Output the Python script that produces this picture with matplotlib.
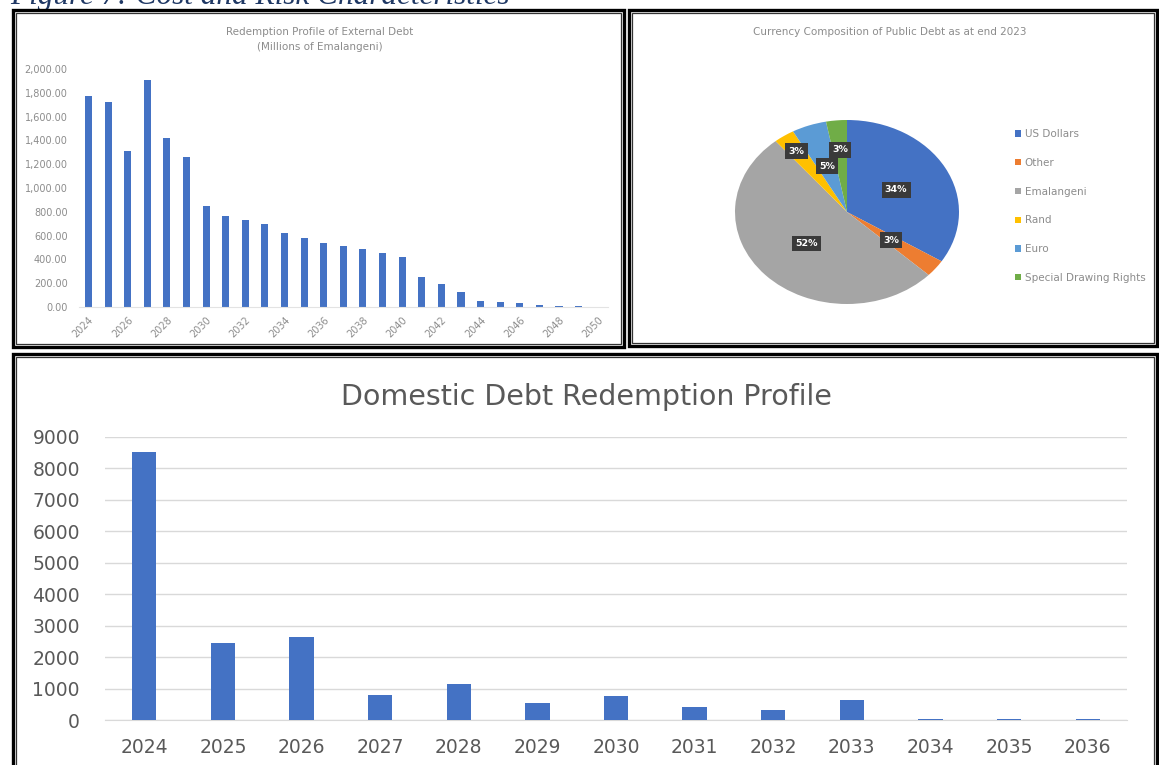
import matplotlib
matplotlib.use("Agg")
import matplotlib.pyplot as plt
from matplotlib.patches import Rectangle
from matplotlib.ticker import FuncFormatter, MultipleLocator
import numpy as np

W, H, DPI = 1159, 765, 100

# ---------------- data ----------------
ext_years = ["2024", "2025", "2026", "2027", "2028", "2029", "2030", "2031", "2032",
             "2033", "2034", "2035", "2036", "2037", "2038", "2039", "2040", "2041",
             "2042", "2043", "2044", "2045", "2046", "2047", "2048", "2049", "2050"]
ext_redemptions = [1773, 1723, 1311, 1908, 1420, 1260, 849, 765, 731, 697, 622, 580,
                   538, 513, 487, 454, 420, 252, 193, 126, 50, 42, 34, 17, 10, 6, 3]

currencies = ["US Dollars", "Other", "Emalangeni", "Rand", "Euro",
              "Special Drawing Rights"]
currency_shares = [34, 3, 52, 3, 5, 3]

dom_years = ["2024", "2025", "2026", "2027", "2028", "2029", "2030", "2031", "2032",
             "2033", "2034", "2035", "2036"]
dom_redemptions = [8510, 2450, 2640, 790, 1140, 530, 750, 420, 320, 635, 20, 20, 20]

# ---------------- styling ----------------
BAR_BLUE = "#4472C4"
PIE_COLORS = ["#4472C4", "#ED7D31", "#A5A5A5", "#FFC000", "#5B9BD5", "#70AD47"]
SMALL_TXT = "#8C8C8C"
TXT = "#595959"

fig = plt.figure(figsize=(W / DPI, H / DPI), dpi=DPI)
fig.patch.set_facecolor("white")


def px_axes(l, t, r, b):
    """Add an axes given pixel edges measured from the top-left corner."""
    return fig.add_axes([l / W, 1 - b / H, (r - l) / W, (b - t) / H])


def px_box(l, t, r, b, lw_outer=2.4, lw_inner=0.9, gap=3):
    """Double-ruled frame around a panel, in pixel coordinates."""
    for off, lw, col in [(0, lw_outer, "black"), (gap, lw_inner, "#333333")]:
        fig.add_artist(Rectangle(((l + off) / W, 1 - (b - off) / H),
                                 (r - l - 2 * off) / W, (b - t - 2 * off) / H,
                                 transform=fig.transFigure, fill=False,
                                 edgecolor=col, linewidth=lw, zorder=10))


# caption (runs off the top of the page)
fig.text(10 / W, 1 - 4 / H, "Figure 7: Cost and Risk Characteristics",
         fontsize=22.5, family="Liberation Serif", style="italic",
         color="#1F3864", va="baseline", ha="left")

# panel frames
px_box(13, 10, 624, 347)
px_box(629, 10, 1157, 346)
px_box(13, 354, 1157, 790)

# ---------------- external debt bars ----------------
ax1 = px_axes(78.7, 69, 608, 307)
x1 = np.arange(len(ext_years))
ax1.bar(x1, ext_redemptions, width=0.36, color=BAR_BLUE)
ax1.set_xlim(-0.5, len(ext_years) - 0.5)
ax1.set_ylim(0, 2000)
ax1.yaxis.set_major_locator(MultipleLocator(200))
ax1.yaxis.set_major_formatter(FuncFormatter(lambda v, p: f"{v:,.2f}"))
ax1.set_xticks(x1[::2])
ax1.set_xticklabels(ext_years[::2], rotation=45, ha="right", rotation_mode="anchor")
ax1.tick_params(axis="both", length=0, labelsize=7, labelcolor=SMALL_TXT)
ax1.tick_params(axis="y", pad=8)
ax1.tick_params(axis="x", pad=6)
for s in ["top", "right", "left"]:
    ax1.spines[s].set_visible(False)
ax1.spines["bottom"].set_color("#E3E3E3")
ax1.set_facecolor("none")
fig.text(320 / W, 1 - 32 / H, "Redemption Profile of External Debt",
         ha="center", va="center", fontsize=7.5, color=SMALL_TXT)
fig.text(320 / W, 1 - 47 / H, "(Millions of Emalangeni)",
         ha="center", va="center", fontsize=7.5, color=SMALL_TXT)

# ---------------- currency composition pie ----------------
cx, cy, rx, ry = 847, 212, 112, 92
ax2 = px_axes(cx - 1.1 * rx, cy - 1.1 * ry, cx + 1.1 * rx, cy + 1.1 * ry)
wedges, _ = ax2.pie(currency_shares, colors=PIE_COLORS, startangle=90,
                    counterclock=False, radius=1.0,
                    wedgeprops=dict(linewidth=0))
ax2.set_aspect("auto")
ax2.set_xlim(-1.1, 1.1)
ax2.set_ylim(-1.1, 1.1)
label_r = [0.5, 0.5, 0.5, 0.8, 0.53, 0.68]
total = sum(currency_shares)
for w, share, r in zip(wedges, currency_shares, label_r):
    mid = np.deg2rad((w.theta1 + w.theta2) / 2)
    ax2.text(r * np.cos(mid), r * np.sin(mid), f"{100 * share / total:.0f}%",
             ha="center", va="center", fontsize=6.8, fontweight="bold",
             color="white",
             bbox=dict(boxstyle="square,pad=0.35", facecolor="#3A3A3A",
                       edgecolor="none"))
fig.text(890 / W, 1 - 32 / H, "Currency Composition of Public Debt as at end 2023",
         ha="center", va="center", fontsize=7.5, color=SMALL_TXT)
ax2.legend(wedges, currencies, loc="center left",
           bbox_to_anchor=(1006 / W, 1 - 206 / H), bbox_transform=fig.transFigure,
           frameon=False, fontsize=7.5, labelspacing=1.8, handlelength=0.55,
           handleheight=0.55, handletextpad=0.35, labelcolor=SMALL_TXT)

# ---------------- domestic debt bars ----------------
ax3 = px_axes(105, 437, 1127, 720)
x3 = np.arange(len(dom_years))
ax3.bar(x3, dom_redemptions, width=0.31, color=BAR_BLUE, zorder=3)
ax3.set_xlim(-0.5, len(dom_years) - 0.5)
ax3.set_ylim(0, 9000)
ax3.yaxis.set_major_locator(MultipleLocator(1000))
ax3.set_xticks(x3)
ax3.set_xticklabels(dom_years)
ax3.grid(axis="y", color="#D9D9D9", linewidth=1.0, zorder=0)
ax3.tick_params(axis="both", length=0, labelsize=13.5, labelcolor=TXT)
ax3.tick_params(axis="y", pad=18)
ax3.tick_params(axis="x", pad=13)
for s in ["top", "right", "left"]:
    ax3.spines[s].set_visible(False)
ax3.spines["bottom"].set_color("#D9D9D9")
fig.text(586 / W, 1 - 397 / H, "Domestic Debt Redemption Profile",
         ha="center", va="center", fontsize=20.5, color=TXT)

fig.savefig("out.png", dpi=DPI)
